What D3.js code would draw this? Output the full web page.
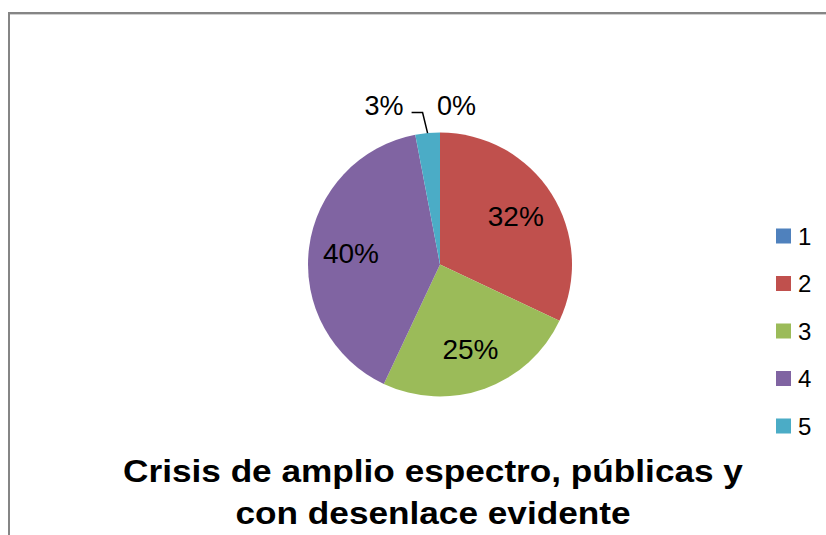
<!DOCTYPE html>
<html>
<head>
<meta charset="utf-8">
<script src="https://cdn.jsdelivr.net/npm/d3@7"></script>
<style>
  html, body { margin: 0; padding: 0; background: #fff; }
  svg { display: block; font-family: Arial, "Liberation Sans", sans-serif; }
</style>
</head>
<body>
<svg id="chart" width="826" height="535"></svg>
<script>
// Response categories and their shares (%)
const categories = ["1", "2", "3", "4", "5"];
const values = [0, 32, 25, 40, 3];
const colors = ["#4f81bd", "#c0504d", "#9bbb59", "#8064a2", "#4bacc6"];
const titleLines = ["Crisis de amplio espectro, públicas y", "con desenlace evidente"];

const svg = d3.select("#chart");
const W = 826, H = 535;

// chart-area frame (top and left edges visible)
svg.append("line").attr("x1", 8).attr("y1", 13).attr("x2", W).attr("y2", 13)
  .attr("stroke", "#858585").attr("stroke-width", 2);
svg.append("line").attr("x1", 9).attr("y1", 12).attr("x2", 9).attr("y2", H)
  .attr("stroke", "#858585").attr("stroke-width", 2);
svg.append("line").attr("x1", 10).attr("y1", 14.5).attr("x2", W).attr("y2", 14.5)
  .attr("stroke", "#d0d0d0").attr("stroke-width", 1);

const cx = 440, cy = 264.5, r = 132;
const data = categories.map((c, i) => ({ cat: c, value: values[i], color: colors[i] }));
const total = d3.sum(values);

const pie = d3.pie().value(d => d.value).sort(null);
const arcs = pie(data);
const arc = d3.arc().innerRadius(0).outerRadius(r);
const labelArc = d3.arc().innerRadius(r * 0.68).outerRadius(r * 0.68);

const g = svg.append("g").attr("transform", `translate(${cx},${cy})`);

g.selectAll("path.slice").data(arcs).join("path")
  .attr("class", "slice")
  .attr("d", arc)
  .attr("fill", d => d.data.color);

const pct = d => Math.round(d.data.value / total * 100) + "%";
const big = arcs.filter(d => d.data.value / total >= 0.1);
const small = arcs.filter(d => d.data.value / total < 0.1);

g.selectAll("text.inner").data(big).join("text")
  .attr("class", "inner")
  .attr("transform", d => `translate(${labelArc.centroid(d)})`)
  .attr("text-anchor", "middle")
  .attr("dy", "0.36em")
  .attr("font-size", 28)
  .attr("fill", "#000")
  .text(pct);

// outside labels for thin slices
small.forEach(d => {
  const mid = (d.startAngle + d.endAngle) / 2;
  const edge = [Math.sin(mid) * r, -Math.cos(mid) * r];
  if (d.data.value === 0) {
    g.append("text")
      .attr("x", edge[0] - 3).attr("y", -r - 18)
      .attr("text-anchor", "start")
      .attr("font-size", 27)
      .text(pct(d));
  } else {
    const elbow = [edge[0] - 5, -r - 20];
    g.append("polyline")
      .attr("points", [edge, elbow, [elbow[0] - 11, elbow[1]]].map(p => p.join(",")).join(" "))
      .attr("fill", "none").attr("stroke", "#000").attr("stroke-width", 1.5);
    g.append("text")
      .attr("x", elbow[0] - 19).attr("y", -r - 18)
      .attr("text-anchor", "end")
      .attr("font-size", 27)
      .text(pct(d));
  }
});

// legend
const lg = svg.append("g").attr("transform", "translate(776,236)");
const legendY = d3.scalePoint().domain(categories).range([0, 190]);
const items = lg.selectAll("g").data(data).join("g")
  .attr("transform", d => `translate(0,${legendY(d.cat)})`);
items.append("rect").attr("x", 0).attr("y", -7.5).attr("width", 15).attr("height", 15)
  .attr("fill", d => d.color);
items.append("text").attr("x", 22).attr("y", 0).attr("dy", "0.36em")
  .attr("font-size", 24).text(d => d.cat);

// title, set in a slightly widened bold face
svg.append("g").attr("transform", "translate(433,0) scale(1.1,1)")
  .selectAll("text").data(titleLines).join("text")
  .attr("x", 0).attr("y", (d, i) => 482 + i * 42)
  .attr("text-anchor", "middle")
  .attr("font-size", 32).attr("font-weight", "bold")
  .text(d => d);
</script>
</body>
</html>
